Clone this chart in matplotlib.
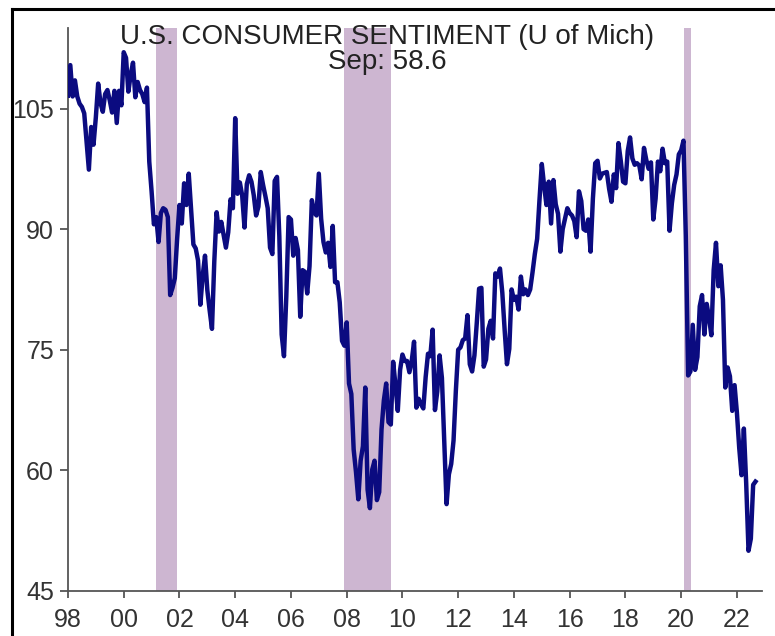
import matplotlib.pyplot as plt
import numpy as np
from matplotlib.lines import Line2D

plt.rcParams['font.family'] = ['Liberation Sans', 'DejaVu Sans']

# monthly index, Jan..Dec
y1998 = [106.6, 110.4, 106.5, 108.5, 106.5, 105.6, 105.2, 104.4, 100.9, 97.4, 102.7, 100.5]
y1999 = [103.9, 108.1, 105.7, 104.6, 106.8, 107.3, 106.0, 104.5, 107.2, 103.2, 107.2, 105.4]
y2000 = [112.0, 111.3, 107.1, 109.2, 110.7, 106.4, 108.3, 107.3, 106.8, 105.8, 107.6, 98.4]
y2001 = [94.7, 90.6, 91.5, 88.4, 92.0, 92.6, 92.4, 91.5, 81.8, 82.7, 83.9, 88.8]
y2002 = [93.0, 90.7, 95.7, 93.0, 96.9, 92.4, 88.1, 87.6, 86.1, 80.6, 84.2, 86.7]
y2003 = [82.4, 79.9, 77.6, 86.0, 92.1, 89.7, 90.9, 89.3, 87.7, 89.6, 93.7, 92.6]
y2004 = [103.8, 94.4, 95.8, 94.2, 90.2, 95.6, 96.7, 95.9, 94.2, 91.7, 92.8, 97.1]
y2005 = [95.5, 94.1, 92.6, 87.7, 86.9, 96.0, 96.5, 89.1, 76.9, 74.2, 81.6, 91.5]
y2006 = [91.2, 86.7, 88.9, 87.4, 79.1, 84.9, 84.7, 82.0, 85.4, 93.6, 92.1, 91.7]
y2007 = [96.9, 91.3, 88.4, 87.1, 88.3, 85.3, 90.4, 83.4, 83.4, 80.9, 76.1, 75.5]
y2008 = [78.4, 70.8, 69.5, 62.6, 59.8, 56.4, 61.2, 63.0, 70.3, 57.6, 55.3, 60.1]
y2009 = [61.2, 56.3, 57.3, 65.1, 68.7, 70.8, 66.0, 65.7, 73.5, 70.6, 67.4, 72.5]
y2010 = [74.4, 73.6, 73.6, 72.2, 73.6, 76.0, 67.8, 68.9, 68.2, 67.7, 71.6, 74.5]
y2011 = [74.2, 77.5, 67.5, 69.8, 74.3, 71.5, 63.7, 55.8, 59.5, 60.8, 63.7, 69.9]
y2012 = [75.0, 75.3, 76.2, 76.4, 79.3, 73.2, 72.3, 74.3, 78.3, 82.6, 82.7, 72.9]
y2013 = [73.8, 77.6, 78.6, 76.4, 84.5, 84.1, 85.1, 82.1, 77.5, 73.2, 75.1, 82.5]
y2014 = [81.2, 81.6, 80.0, 84.1, 81.9, 82.5, 81.8, 82.5, 84.6, 86.9, 88.8, 93.6]
y2015 = [98.1, 95.4, 93.0, 95.9, 90.7, 96.1, 93.1, 91.9, 87.2, 90.0, 91.3, 92.6]
y2016 = [92.0, 91.7, 91.0, 89.0, 94.7, 93.5, 90.0, 89.8, 91.2, 87.2, 93.8, 98.2]
y2017 = [98.5, 96.3, 96.9, 97.0, 97.1, 95.0, 93.4, 96.8, 95.1, 100.7, 98.5, 95.9]
y2018 = [95.7, 99.7, 101.4, 98.8, 98.0, 98.2, 97.9, 96.2, 100.1, 98.6, 97.5, 98.3]
y2019 = [91.2, 93.8, 98.4, 97.2, 100.0, 98.2, 98.4, 89.8, 93.2, 95.5, 96.8, 99.3]
y2020 = [99.8, 101.0, 89.1, 71.8, 72.3, 78.1, 72.5, 74.1, 80.4, 81.8, 76.9, 80.7]
y2021 = [79.0, 76.8, 84.9, 88.3, 82.9, 85.5, 81.2, 70.3, 72.8, 71.7, 67.4, 70.6]
y2022 = [67.2, 62.8, 59.4, 65.2, 58.4, 50.0, 51.5, 58.2, 58.6]

sentiment = np.array(y1998 + y1999 + y2000 + y2001 + y2002 + y2003 + y2004 + y2005
                     + y2006 + y2007 + y2008 + y2009 + y2010 + y2011 + y2012 + y2013
                     + y2014 + y2015 + y2016 + y2017 + y2018 + y2019 + y2020 + y2021 + y2022)
t = 1998 + np.arange(len(sentiment)) / 12

# recessions (start, end) in decimal years
rec_start = [2001.17, 2007.9, 2020.1]
rec_end = [2001.92, 2009.6, 2020.34]

xticks = np.arange(1998, 2023, 2)
xlabels = ['%02d' % (y % 100) for y in xticks]
yticks = [45, 60, 75, 90, 105]

fig = plt.figure(figsize=(7.75, 6.36), dpi=100)
ax = fig.add_axes([0.0877, 0.0708, 0.8955, 0.885])

for s, e in zip(rec_start, rec_end):
    ax.axvspan(s, e, color='#cdb6d1', lw=0, zorder=0)

ax.plot(t, sentiment, color='#0b0b80', lw=3.2, solid_joinstyle='round', zorder=3)

ax.set_xlim(1998, 2022.9)
ax.set_ylim(45, 115)
ax.set_xticks(xticks)
ax.set_xticklabels(xlabels)
ax.set_yticks(yticks)

for side in ['top', 'right']:
    ax.spines[side].set_visible(False)
for side in ['left', 'bottom']:
    ax.spines[side].set_color('#555555')
    ax.spines[side].set_linewidth(1.3)

ax.tick_params(axis='both', labelsize=18, colors='#555555', labelcolor='#333333', width=1.3)
ax.tick_params(axis='y', length=6, pad=4)
ax.tick_params(axis='x', length=5, pad=7)

fig.text(0.5, 0.931, 'U.S. CONSUMER SENTIMENT (U of Mich)', ha='center', va='baseline',
         fontsize=20, color='#222222')
fig.text(0.5, 0.892, 'Sep: 58.6', ha='center', va='baseline', fontsize=20, color='#222222')

# frame lines at top and left of the picture
fig.add_artist(Line2D([0.0155, 1.0], [0.986, 0.986], color='black', lw=2.2, transform=fig.transFigure))
fig.add_artist(Line2D([0.0155, 0.0155], [0.0, 0.986], color='black', lw=2.2, transform=fig.transFigure))

plt.savefig('out.png', dpi=100)
